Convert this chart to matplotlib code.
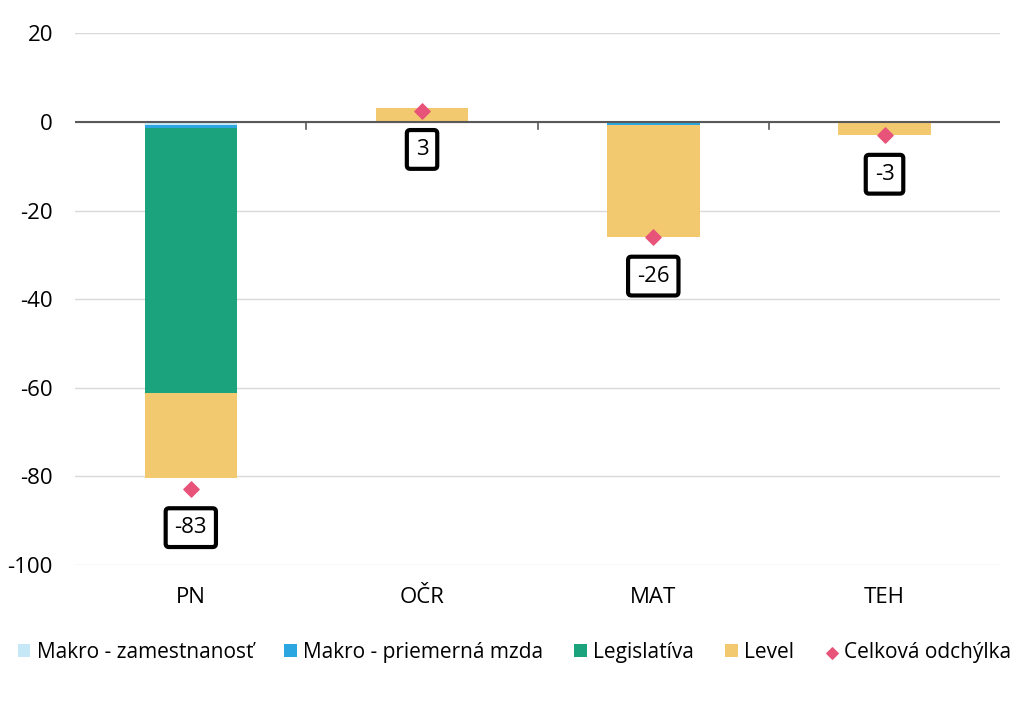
import matplotlib.pyplot as plt
import numpy as np

plt.rcParams["font.family"] = ["Open Sans", "DejaVu Sans"]
plt.rcParams["axes.unicode_minus"] = False

categories = ["PN", "OČR", "MAT", "TEH"]
makro_zam = [-0.6, -0.3, 0.0, 0.0]
makro_mzda = [-0.7, 0.0, -0.7, 0.0]
legislativa = [-59.8, 0.0, 0.0, 0.0]
level = [-19.2, 3.2, -25.3, -3.0]
total = [-82.8, 2.6, -26.0, -3.0]
total_labels = ["-83", "3", "-26", "-3"]

series = [
    ("Makro - zamestnanosť", makro_zam, "#C6E7F5"),
    ("Makro - priemerná mzda", makro_mzda, "#2BA6E0"),
    ("Legislatíva", legislativa, "#1BA37E"),
    ("Level", level, "#F2C96E"),
]


def main() -> None:
    fig = plt.figure(figsize=(10.3, 7.28), dpi=100)
    ax = fig.add_axes([0.073, 0.224, 0.898, 0.73])
    x = np.arange(len(categories))
    pos = np.zeros(len(categories))
    neg = np.zeros(len(categories))
    handles = []
    for label, vals, color in series:
        vals = np.array(vals)
        bottom = np.where(vals >= 0, pos, neg)
        h = ax.bar(x, vals, width=0.4, bottom=bottom, color=color, label=label, zorder=2)
        handles.append(h)
        pos = pos + np.clip(vals, 0, None)
        neg = neg + np.clip(vals, None, 0)
    sc = ax.scatter(x, total, marker="D", s=60, color="#E8537A", label="Celková odchýlka", zorder=4)
    handles.append(sc)
    for xi, yi, txt in zip(x, total, total_labels):
        ax.annotate(txt, (xi, yi), xytext=(0, -28), textcoords="offset points",
                    ha="center", va="center", fontsize=16,
                    bbox=dict(boxstyle="round,pad=0.4,rounding_size=0.15", fc="white", ec="black", lw=3))

    ax.set_xlim(-0.5, 3.5)
    ax.set_ylim(-100, 20)
    ax.set_yticks(range(-100, 21, 20))
    ax.grid(axis="y", color="#D9D9D9", linewidth=1, zorder=0)
    ax.axhline(0, color="#595959", linewidth=1.5, zorder=3)
    for b in [0.5, 1.5, 2.5]:
        ax.plot([b, b], [0, -1.5], color="#595959", linewidth=1.2, zorder=3)
    for s in ax.spines.values():
        s.set_visible(False)
    ax.tick_params(axis="both", length=0, labelsize=16, colors="black")
    ax.tick_params(axis="x", pad=16)
    ax.tick_params(axis="y", pad=16)
    ax.set_xticks(x)
    ax.set_xticklabels(categories)

    ax.legend(handles=handles, loc="lower center", bbox_to_anchor=(0.475, -0.22), ncol=5,
              frameon=False, fontsize=15, handlelength=0.6, handleheight=0.6,
              handletextpad=0.3, columnspacing=1.5, markerscale=0.75)
    fig.savefig("out.png", dpi=100)


if __name__ == "__main__":
    main()
